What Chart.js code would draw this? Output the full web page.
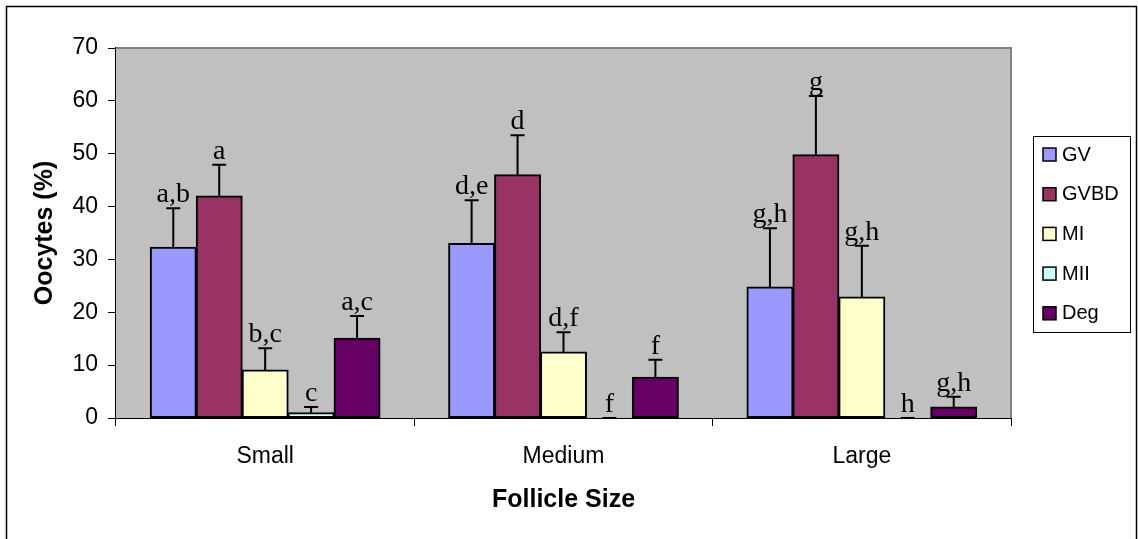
<!DOCTYPE html>
<html>
<head>
<meta charset="utf-8">
<script src="https://cdn.jsdelivr.net/npm/chart.js@4.4.1/dist/chart.umd.min.js"></script>
<style>
  body { margin: 0; background: #fff; }
</style>
</head>
<body>
<canvas id="chart" width="1138" height="539"></canvas>
<script>
// follicle size groups
var categories = ['Small', 'Medium', 'Large'];
var seriesNames = ['GV', 'GVBD', 'MI', 'MII', 'Deg'];

// means (%) and SEM
var gv = [32.3, 33.0, 24.8];
var gvErr = [7.4, 8.2, 11.1];
var gvbd = [42.0, 46.0, 49.8];
var gvbdErr = [5.9, 7.5, 11.1];
var mi = [9.1, 12.5, 22.9];
var miErr = [4.1, 3.7, 9.7];
var mii = [1.0, 0, 0];
var miiErr = [1.1, 0, 0];
var deg = [15.1, 7.7, 2.1];
var degErr = [4.2, 3.3, 1.9];

// significance letters above each bar
var gvLetters = ['a,b', 'd,e', 'g,h'];
var gvbdLetters = ['a', 'd', 'g'];
var miLetters = ['b,c', 'd,f', 'g,h'];
var miiLetters = ['c', 'f', 'h'];
var degLetters = ['a,c', 'f', 'g,h'];

var yTicks = [0, 10, 20, 30, 40, 50, 60, 70];

var colors = ['#9999FF', '#993366', '#FFFFCC', '#CCFFFF', '#660066'];
var values = [gv, gvbd, mi, mii, deg];
var errors = [gvErr, gvbdErr, miErr, miiErr, degErr];
var letters = [gvLetters, gvbdLetters, miLetters, miiLetters, degLetters];

var datasets = seriesNames.map(function (name, i) {
    return {
        label: name,
        data: values[i],
        err: errors[i],
        letters: letters[i],
        backgroundColor: colors[i],
        borderColor: '#000',
        borderWidth: 2,
        borderSkipped: false,
        inflateAmount: 0.5
    };
});

// grey plot area, errorbars, letters, legend and outer frame
var decorations = {
    id: 'decorations',
    beforeDatasetsDraw: function (chart) {
        var ctx = chart.ctx, a = chart.chartArea;
        ctx.save();
        ctx.fillStyle = '#C0C0C0';
        ctx.fillRect(a.left, a.top, a.right - a.left, a.bottom - a.top);
        ctx.strokeStyle = '#808080';
        ctx.lineWidth = 2;
        ctx.beginPath();
        ctx.moveTo(a.left, a.top);
        ctx.lineTo(a.right, a.top);
        ctx.lineTo(a.right, a.bottom);
        ctx.stroke();
        ctx.restore();
    },
    afterDatasetsDraw: function (chart) {
        var ctx = chart.ctx, y = chart.scales.y;
        ctx.save();
        ctx.strokeStyle = '#000';
        ctx.fillStyle = '#000';
        ctx.lineWidth = 2;
        ctx.font = '28px "Liberation Serif", "Times New Roman", serif';
        ctx.textAlign = 'center';
        ctx.textBaseline = 'alphabetic';
        chart.data.datasets.forEach(function (ds, i) {
            var meta = chart.getDatasetMeta(i);
            meta.data.forEach(function (bar, j) {
                var top = y.getPixelForValue(ds.data[j] + ds.err[j]);
                ctx.beginPath();
                ctx.moveTo(bar.x, bar.y);
                ctx.lineTo(bar.x, top);
                ctx.moveTo(bar.x - 7, top);
                ctx.lineTo(bar.x + 7, top);
                ctx.stroke();
                ctx.fillText(ds.letters[j], bar.x, top - 6);
            });
        });

        // legend
        var lx = 1033, ly = 136, lw = 97, lh = 196;
        ctx.lineWidth = 1;
        ctx.strokeStyle = '#000';
        ctx.strokeRect(lx + 0.5, ly + 0.5, lw, lh);
        ctx.font = '20px "Liberation Sans", Arial, sans-serif';
        ctx.textAlign = 'left';
        ctx.textBaseline = 'middle';
        chart.data.datasets.forEach(function (ds, i) {
            var cy = 154 + i * 39.7;
            ctx.fillStyle = ds.backgroundColor;
            ctx.fillRect(1043, cy - 6, 13, 13);
            ctx.lineWidth = 1.5;
            ctx.strokeRect(1043, cy - 6, 13, 13);
            ctx.fillStyle = '#000';
            ctx.fillText(ds.label, 1062, cy + 1);
        });

        // outer frame
        ctx.lineWidth = 1.5;
        ctx.strokeRect(6.5, 6.5, 1130, 600);
        ctx.restore();
    }
};

new Chart(document.getElementById('chart'), {
    type: 'bar',
    data: { labels: categories, datasets: datasets },
    plugins: [decorations],
    options: {
        responsive: false,
        animation: false,
        categoryPercentage: 0.77,
        barPercentage: 1,
        layout: { padding: { left: 0, top: 48, right: 127, bottom: 0 } },
        plugins: {
            legend: { display: false },
            tooltip: { enabled: false }
        },
        scales: {
            x: {
                afterFit: function (s) { s.height = 121; },
                grid: { offset: true, drawOnChartArea: false, color: '#000', tickLength: 8 },
                border: { color: '#000', width: 2 },
                ticks: { color: '#000', padding: 17, font: { family: '"Liberation Sans", Arial', size: 23 } },
                title: {
                    display: true, text: 'Follicle Size', color: '#000',
                    font: { family: '"Liberation Sans", Arial', size: 25, weight: 'bold' },
                    padding: { top: 0, bottom: 24 }
                }
            },
            y: {
                min: 0, max: 70,
                afterFit: function (s) { s.width = 116; },
                afterBuildTicks: function (s) { s.ticks = yTicks.map(function (v) { return { value: v }; }); },
                grid: { drawOnChartArea: false, color: '#000', tickLength: 8 },
                border: { color: '#000', width: 2 },
                ticks: { color: '#000', padding: 10, font: { family: '"Liberation Sans", Arial', size: 23 } },
                title: {
                    display: true, text: 'Oocytes (%)', color: '#000',
                    font: { family: '"Liberation Sans", Arial', size: 25, weight: 'bold' },
                    padding: { top: 30, bottom: 0 }
                }
            }
        }
    }
});
</script>
</body>
</html>
